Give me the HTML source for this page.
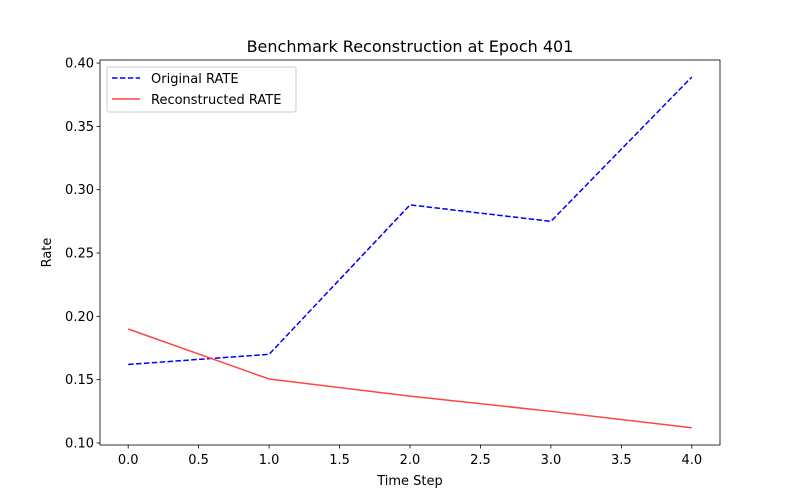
<!DOCTYPE html>
<html><head><meta charset="utf-8"><style>body{margin:0;background:#fff}svg{display:block;font-family:"DejaVu Sans","Liberation Sans",sans-serif}</style></head>
<body>
<svg id="chart" width="800" height="500" xmlns="http://www.w3.org/2000/svg">
<rect width="800" height="500" fill="#fff"/>
<g id="g"></g>
</svg>
<script>
const steps=[0,1,2,3,4];
const original=[0.162,0.170,0.288,0.275,0.389];
const recon=[0.190,0.1505,0.137,0.125,0.112];
const xTicks=[0,0.5,1,1.5,2,2.5,3,3.5,4];
const yTicks=[0.10,0.15,0.20,0.25,0.30,0.35,0.40];
const L=100,R=720,T=60,B=445;
const xmin=-0.2,xmax=4.2,ymin=0.0984,ymax=0.4024;
const X=v=>L+(v-xmin)/(xmax-xmin)*(R-L);
const Y=v=>B-(v-ymin)/(ymax-ymin)*(B-T);
const NS="http://www.w3.org/2000/svg";
const g=document.getElementById('g');
function el(t,a,txt){const e=document.createElementNS(NS,t);for(const k in a)e.setAttribute(k,a[k]);if(txt!==undefined)e.textContent=txt;g.appendChild(e);return e;}
xTicks.forEach(v=>{
 const l=el('line',{x1:X(v),x2:X(v),y1:B,y2:B+3.5,stroke:'#000','stroke-width':0.8});
 
 const t=el('text',{x:X(v),y:B+19,'font-size':13,'text-anchor':'middle'},v.toFixed(1));
 
});
yTicks.forEach(v=>{
 const l=el('line',{x1:L-3.5,x2:L,y1:Y(v),y2:Y(v),stroke:'#000','stroke-width':0.8});
 
 const t=el('text',{x:L-6,y:Y(v)+4.5,'font-size':13,'text-anchor':'end'},v.toFixed(2));
 
});
const pts=a=>a.map((v,i)=>X(steps[i])+','+Y(v)).join(' ');
const p1=el('polyline',{points:pts(original),fill:'none',stroke:'#0000ff','stroke-width':1.5,'stroke-dasharray':'5.5,2.4'});

const p2=el('polyline',{points:pts(recon),fill:'none',stroke:'#ff4444','stroke-width':1.5});

const fr=el('rect',{x:L,y:T,width:R-L,height:B-T,fill:'none',stroke:'#000','stroke-width':0.8});

const ti=el('text',{x:(L+R)/2,y:52,'font-size':16,'text-anchor':'middle'},'Benchmark Reconstruction at Epoch 401');

const xl=el('text',{x:(L+R)/2,y:485,'font-size':13,'text-anchor':'middle'},'Time Step');

const yl=el('text',{x:51,y:(T+B)/2,'font-size':13,'text-anchor':'middle',transform:`rotate(-90 51 ${(T+B)/2})`},'Rate');

const lg=el('rect',{x:107,y:67,width:189,height:45,fill:'#fff',stroke:'#ccc','stroke-width':1,rx:2});

const a=el('line',{x1:112,x2:140,y1:78,y2:78,stroke:'#0000ff','stroke-width':1.5,'stroke-dasharray':'5.5,2.4'});

const at=el('text',{x:151,y:83,'font-size':13},'Original RATE');

const b=el('line',{x1:112,x2:140,y1:99,y2:99,stroke:'#ff4444','stroke-width':1.5});

const bt=el('text',{x:151,y:104,'font-size':13},'Reconstructed RATE');

</script>
</body></html>
